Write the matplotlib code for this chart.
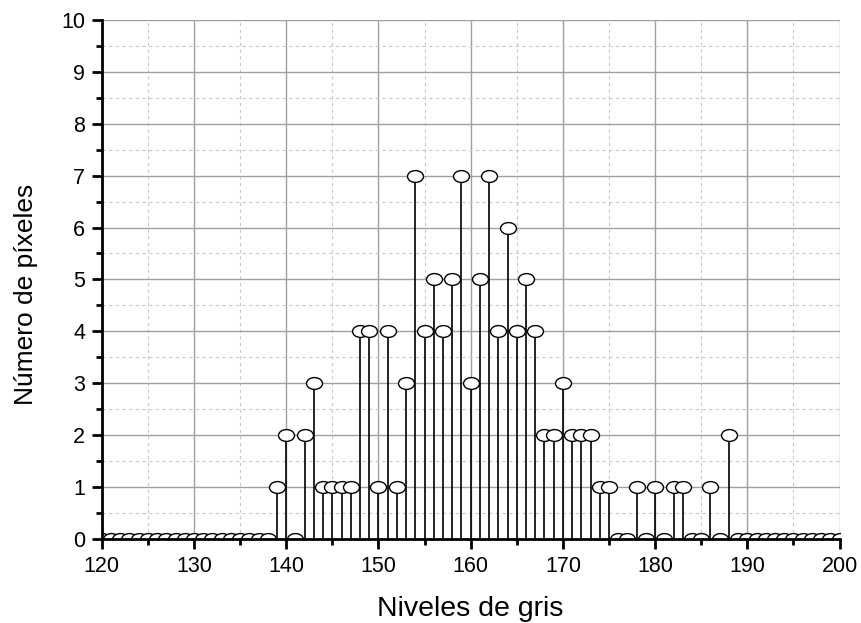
import matplotlib
matplotlib.use('Agg')
import matplotlib.pyplot as plt
from matplotlib.path import Path
from matplotlib.transforms import Affine2D
from matplotlib.ticker import MultipleLocator

plt.rcParams['font.family'] = ['Liberation Sans', 'DejaVu Sans']

# grey levels and pixel counts
niveles = list(range(120, 201))
conteo = [0] * 19 + [
    1, 2, 0, 2, 3, 1, 1, 1, 1, 4,      # 139-148
    4, 1, 4, 1, 3, 7, 4, 5, 4, 5,      # 149-158
    7, 3, 5, 7, 4, 6, 4, 5, 4, 2,      # 159-168
    2, 3, 2, 2, 2, 1, 1, 0, 0, 1,      # 169-178
    0, 1, 0, 1, 1, 0, 0, 1, 0, 2,      # 179-188
] + [0] * 12

x_ticks = [120, 130, 140, 150, 160, 170, 180, 190, 200]
y_ticks = list(range(0, 11))

# open elliptical marker
ellipse = Path.unit_circle().transformed(Affine2D().scale(1.35, 1.0))

fig = plt.figure(figsize=(8.62, 6.23), dpi=100)
ax = fig.add_axes([0.118, 0.135, 0.856, 0.833])

ax.grid(True, which='major', color='#a0a0a0', linewidth=1.0, linestyle='-')
ax.grid(True, which='minor', color='#c8c8c8', linewidth=0.8, linestyle=(0, (3, 3)))
ax.set_axisbelow(True)

ax.vlines(niveles, 0, conteo, color='black', linewidth=1.2, zorder=3)
ax.plot(niveles, conteo, linestyle='none', marker=ellipse, markersize=11.5,
        markerfacecolor='white', markeredgecolor='black', markeredgewidth=1.0, zorder=4)

ax.set_xlim(120, 200)
ax.set_ylim(0, 10)
ax.set_xticks(x_ticks)
ax.set_yticks(y_ticks)
ax.xaxis.set_minor_locator(MultipleLocator(5))
ax.yaxis.set_minor_locator(MultipleLocator(0.5))

for side in ['top', 'right']:
    ax.spines[side].set_visible(False)
for side in ['left', 'bottom']:
    ax.spines[side].set_linewidth(2)
    ax.spines[side].set_zorder(5)

ax.tick_params(which='major', direction='out', length=7, width=2, labelsize=15.5, pad=5)
ax.tick_params(which='minor', direction='out', length=4, width=2)

ax.set_xlabel('Niveles de gris', fontsize=20.5, labelpad=14)
ax.set_ylabel('Número de píxeles', fontsize=19)
ax.yaxis.set_label_coords(-0.086, 0.472)

fig.savefig('out.png', dpi=100)
